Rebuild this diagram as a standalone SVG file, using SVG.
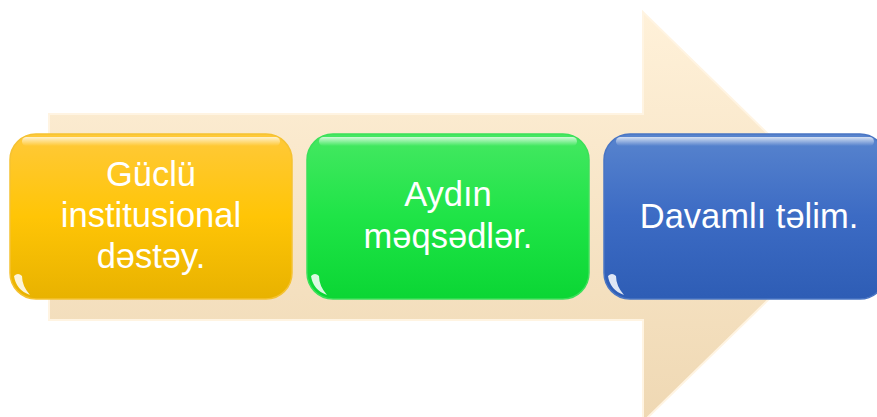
<svg xmlns="http://www.w3.org/2000/svg" width="877" height="417" viewBox="0 0 877 417">
<defs>
<linearGradient id="gArrow" x1="0" y1="0" x2="0" y2="1">
<stop offset="0" stop-color="#FFF1D9"/>
<stop offset="1" stop-color="#EFD8B3"/>
</linearGradient>
<linearGradient id="gYellow" x1="0" y1="0" x2="0" y2="1">
<stop offset="0" stop-color="#FFC93A"/>
<stop offset="0.5" stop-color="#FFC506"/>
<stop offset="1" stop-color="#E8B200"/>
</linearGradient>
<linearGradient id="gGreen" x1="0" y1="0" x2="0" y2="1">
<stop offset="0" stop-color="#45E862"/>
<stop offset="0.5" stop-color="#1FE447"/>
<stop offset="1" stop-color="#0BD634"/>
</linearGradient>
<linearGradient id="gBlue" x1="0" y1="0" x2="0" y2="1">
<stop offset="0" stop-color="#5884CE"/>
<stop offset="0.5" stop-color="#3C6BC4"/>
<stop offset="1" stop-color="#2E5DB5"/>
</linearGradient>
<linearGradient id="gShine" x1="0" y1="0" x2="0" y2="1">
<stop offset="0" stop-color="#FFFFFF" stop-opacity="0.75"/>
<stop offset="1" stop-color="#FFFFFF" stop-opacity="0"/>
</linearGradient>
</defs>
<style>
.lbl{font-family:"Liberation Sans","Noto Sans",Arial,sans-serif;font-size:34.5px;fill:#FFFFFF;text-anchor:middle}
.box{stroke-width:1.5}
.shine{fill:url(#gShine)}
.spot{fill:#FFFFFF;opacity:0.85}
</style>
<g id="arrow">
<path d="M49,114 L643,114 L643,12 L853,217 L643,422 L643,320 L49,320 Z" fill="url(#gArrow)" stroke="#FFF4E2" stroke-width="2"/>
</g>
<g id="node-1">
<rect class="box" x="10" y="134" width="282" height="165" rx="26" fill="url(#gYellow)" stroke="#F5C232"/>
<rect class="shine" x="22" y="137" width="258" height="9" rx="4.5"/>
<path class="spot" d="M14,276 Q16,290 30,295 Q22,286 22,276 Q18,272 14,276 Z"/>
<text class="lbl" x="151" y="186">Güclü</text>
<text class="lbl" x="151" y="227">institusional</text>
<text class="lbl" x="151" y="268">dəstəy.</text>
</g>
<g id="node-2">
<rect class="box" x="307" y="134" width="282" height="165" rx="26" fill="url(#gGreen)" stroke="#3CE05A"/>
<rect class="shine" x="319" y="137" width="258" height="9" rx="4.5"/>
<path class="spot" d="M311,276 Q313,290 327,295 Q319,286 319,276 Q315,272 311,276 Z"/>
<text class="lbl" x="448" y="206">Aydın</text>
<text class="lbl" x="448" y="248">məqsədlər.</text>
</g>
<g id="node-3">
<rect class="box" x="604" y="134" width="282" height="165" rx="26" fill="url(#gBlue)" stroke="#4A76C4"/>
<rect class="shine" x="616" y="137" width="258" height="9" rx="4.5"/>
<path class="spot" d="M608,276 Q610,290 624,295 Q616,286 616,276 Q612,272 608,276 Z"/>
<text class="lbl" x="749" y="228">Davamlı təlim.</text>
</g>
<g id="connectors"/>
</svg>
